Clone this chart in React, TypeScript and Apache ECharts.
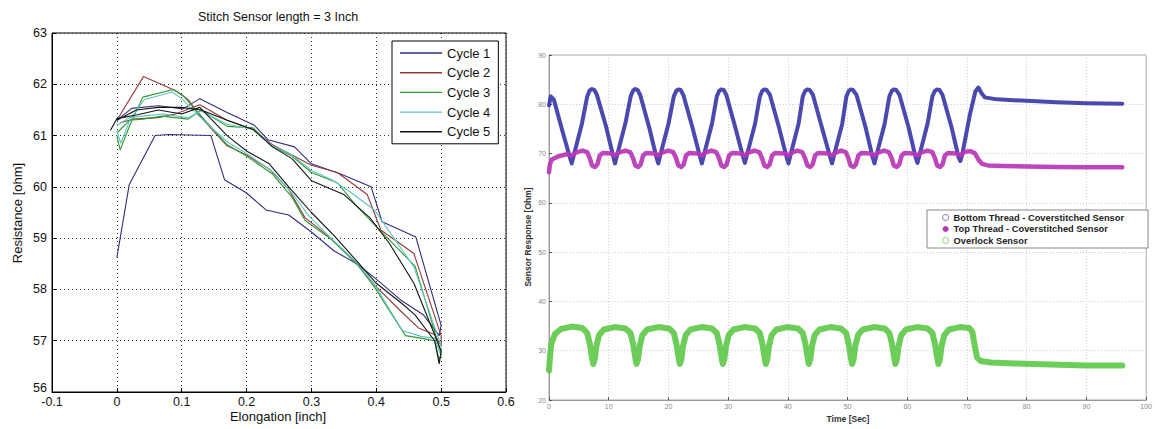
import { useEffect, useRef } from 'react';
import * as echarts from 'echarts';

// ---------- Left chart: Stitch Sensor length = 3 Inch ----------
const leftXTicks = [-0.1, 0, 0.1, 0.2, 0.3, 0.4, 0.5, 0.6];
const leftYTicks = [56, 57, 58, 59, 60, 61, 62, 63];
const cycleNames = ['Cycle 1', 'Cycle 2', 'Cycle 3', 'Cycle 4', 'Cycle 5'];

const cycle1 = [
  [0, 58.62], [0.019, 60.04], [0.059, 61.0], [0.08, 61.02], [0.145, 61.0], [0.166, 60.14], [0.2, 59.88],
  [0.23, 59.55], [0.265, 59.45], [0.3, 59.12], [0.335, 58.75], [0.37, 58.5], [0.4, 58.2], [0.437, 57.8],
  [0.473, 57.5], [0.497, 57.1], [0.5, 57.3], [0.461, 59.02], [0.409, 59.32], [0.392, 60.0], [0.345, 60.25],
  [0.3, 60.45], [0.274, 60.78], [0.233, 60.92], [0.212, 61.2], [0.17, 61.45], [0.128, 61.72], [0.102, 61.52],
  [0.064, 61.58], [0.023, 61.53], [0, 61.3],
];
const cycle2 = [
  [0, 61.3], [0.041, 62.15], [0.09, 61.88], [0.11, 61.7], [0.13, 61.35], [0.17, 60.8], [0.2, 60.62],
  [0.235, 60.35], [0.265, 59.95], [0.29, 59.4], [0.33, 59.0], [0.37, 58.5], [0.4, 58.05], [0.44, 57.55],
  [0.465, 57.25], [0.49, 57.12], [0.5, 56.9], [0.5, 57.1], [0.458, 58.7], [0.407, 59.16], [0.386, 59.85],
  [0.34, 60.28], [0.3, 60.42], [0.27, 60.62], [0.24, 60.82], [0.21, 61.12], [0.17, 61.3], [0.128, 61.6],
  [0.09, 61.42], [0.064, 61.35], [0.025, 61.32], [0.005, 61.25],
];
const cycle3 = [
  [0, 61.0], [0.005, 60.72], [0.02, 61.2], [0.04, 61.75], [0.087, 61.9], [0.102, 61.78], [0.125, 61.45],
  [0.17, 60.82], [0.2, 60.6], [0.24, 60.25], [0.27, 59.8], [0.29, 59.35], [0.33, 58.98], [0.37, 58.5],
  [0.397, 58.05], [0.445, 57.1], [0.473, 57.04], [0.49, 57.0], [0.497, 56.62], [0.5, 56.75], [0.46, 58.45],
  [0.402, 59.2], [0.37, 59.62], [0.34, 60.08], [0.3, 60.28], [0.27, 60.6], [0.24, 60.78], [0.21, 61.15],
  [0.17, 61.18], [0.13, 61.5], [0.11, 61.32], [0.07, 61.38], [0.04, 61.32], [0.02, 61.3], [0, 61.05],
];
const cycle4 = [
  [0, 61.1], [0.006, 60.85], [0.02, 61.3], [0.042, 61.7], [0.085, 61.85], [0.1, 61.72], [0.125, 61.4],
  [0.17, 60.88], [0.2, 60.65], [0.24, 60.3], [0.27, 59.88], [0.295, 59.45], [0.33, 59.0], [0.37, 58.52],
  [0.398, 58.08], [0.44, 57.2], [0.47, 57.08], [0.49, 57.05], [0.5, 56.7], [0.5, 56.9], [0.458, 58.44],
  [0.397, 59.55], [0.36, 59.9], [0.33, 60.15], [0.3, 60.32], [0.27, 60.62], [0.24, 60.8], [0.21, 61.12],
  [0.17, 61.22], [0.13, 61.48], [0.11, 61.35], [0.07, 61.42], [0.04, 61.38], [0.02, 61.35], [0, 61.2],
];
const cycle5 = [
  [-0.01, 61.1], [0, 61.33], [0.03, 61.4], [0.064, 61.5], [0.1, 61.42], [0.128, 61.55], [0.17, 61.0],
  [0.2, 60.7], [0.235, 60.45], [0.265, 60.0], [0.3, 59.5], [0.335, 59.05], [0.37, 58.55], [0.4, 58.12],
  [0.44, 57.72], [0.46, 57.5], [0.49, 57.0], [0.497, 56.55], [0.5, 56.8], [0.458, 58.12], [0.42, 58.9],
  [0.39, 59.4], [0.35, 59.85], [0.3, 60.12], [0.27, 60.55], [0.24, 60.78], [0.21, 61.12], [0.17, 61.3],
  [0.13, 61.5], [0.1, 61.55], [0.064, 61.55], [0.03, 61.5], [0, 61.3],
];
const cycles = [cycle1, cycle2, cycle3, cycle4, cycle5];
const cycleColors = ['#2e2e7e', '#963838', '#2f9a2f', '#5cc4c4', '#141414'];

// ---------- Right chart: Sensor Response vs Time ----------
const rightXTicks = [0, 10, 20, 30, 40, 50, 60, 70, 80, 90, 100];
const rightYTicks = [20, 30, 40, 50, 60, 70, 80, 90];
const sensorNames = ['Bottom Thread - Coverstitched Sensor', 'Top Thread - Coverstitched Sensor', 'Overlock Sensor'];

const bottomThread = [
  [0, 79.8], [0.3, 81.6], [0.8, 81.0], [2.2, 74.8], [3.5, 69.2], [3.8, 68.0], [4.1, 69.4], [5.5, 76.0],
  [6.4, 81.6], [6.8, 82.8], [7.2, 83.1], [7.6, 82.9], [8.0, 82.0], [9.6, 75.3], [10.8, 69.2], [11.05, 68.0], [11.35, 69.4],
  [12.8, 76.2], [13.7, 81.7], [14.1, 82.8], [14.45, 83.1], [14.85, 82.9], [15.3, 81.8], [16.8, 75.2], [18.0, 69.2], [18.3, 68.0],
  [18.6, 69.5], [20.0, 76.0], [20.9, 81.6], [21.3, 82.7], [21.65, 83.0], [22.05, 82.9], [22.5, 81.9], [24.0, 75.4], [25.3, 69.3],
  [25.6, 68.0], [25.9, 69.5], [27.3, 76.1], [28.1, 81.6], [28.5, 82.7], [28.85, 83.0], [29.25, 82.9], [29.7, 81.9], [31.2, 75.3],
  [32.5, 69.3], [32.8, 68.1], [33.1, 69.5], [34.5, 76.0], [35.3, 81.5], [35.7, 82.7], [36.05, 83.0], [36.45, 82.9], [37.0, 81.9],
  [38.5, 75.4], [39.8, 69.2], [40.1, 68.0], [40.4, 69.5], [41.8, 76.1], [42.5, 81.6], [42.9, 82.7], [43.25, 83.0], [43.65, 82.9],
  [44.2, 81.9], [45.7, 75.3], [47.1, 69.2], [47.4, 68.0], [47.7, 69.5], [49.1, 76.0], [49.8, 81.6], [50.2, 82.7], [50.5, 83.0],
  [50.9, 82.9], [51.5, 81.9], [53.0, 75.4], [54.2, 69.2], [54.5, 68.0], [54.8, 69.5], [56.2, 76.0], [57.0, 81.6], [57.4, 82.7],
  [57.75, 83.0], [58.15, 82.9], [58.7, 81.9], [60.2, 75.4], [61.4, 69.2], [61.7, 68.1], [62.0, 69.5], [63.4, 76.1],
  [64.2, 81.6], [64.6, 82.7], [65.0, 83.0], [65.4, 82.9], [65.9, 81.9], [67.4, 75.4], [68.6, 69.2], [68.9, 68.5], [69.2, 69.8],
  [70.5, 78.0], [71.4, 82.6], [71.9, 83.4], [72.4, 82.3], [73.0, 81.4], [75, 81.0], [80, 80.7], [85, 80.4],
  [90, 80.2], [96, 80.1],
];
const topThread = [
  [0, 66.2], [0.15, 67.8], [0.5, 68.8], [1.5, 69.4], [3.0, 69.9], [3.8, 69.6], [4.5, 70.2], [5.6, 70.6],
  [6.4, 70.3], [6.85, 69.0], [7.2, 67.6], [7.7, 67.3], [8.1, 67.8], [8.5, 69.6], [9.0, 70.1], [10.4, 70.0],
  [11.05, 69.6], [11.7, 70.2], [12.8, 70.6], [13.6, 70.3], [14.1, 69.0], [14.45, 67.6], [14.95, 67.3], [15.35, 67.8],
  [15.75, 69.6], [16.25, 70.1], [17.6, 70.0], [18.3, 69.6], [18.9, 70.2], [20.0, 70.6], [20.8, 70.3], [21.3, 69.0],
  [21.65, 67.6], [22.15, 67.3], [22.55, 67.8], [22.95, 69.6], [23.45, 70.1], [24.9, 70.0], [25.6, 69.6], [26.2, 70.2],
  [27.2, 70.6], [28.0, 70.3], [28.5, 69.0], [28.85, 67.6], [29.35, 67.3], [29.75, 67.8], [30.15, 69.6], [30.65, 70.1],
  [32.1, 70.0], [32.8, 69.6], [33.4, 70.2], [34.4, 70.6], [35.2, 70.3], [35.7, 69.0], [36.05, 67.6], [36.55, 67.3],
  [36.95, 67.8], [37.35, 69.6], [37.85, 70.1], [39.4, 70.0], [40.1, 69.6], [40.7, 70.2], [41.6, 70.6], [42.4, 70.3],
  [42.9, 69.0], [43.25, 67.6], [43.75, 67.3], [44.15, 67.8], [44.55, 69.6], [45.05, 70.1], [46.7, 70.0], [47.4, 69.6],
  [48.0, 70.2], [48.9, 70.6], [49.7, 70.3], [50.15, 69.0], [50.5, 67.6], [51.0, 67.3], [51.4, 67.8], [51.8, 69.6],
  [52.3, 70.1], [53.8, 70.0], [54.5, 69.6], [55.1, 70.2], [56.1, 70.6], [56.9, 70.3], [57.4, 69.0], [57.75, 67.6],
  [58.25, 67.3], [58.65, 67.8], [59.05, 69.6], [59.55, 70.1], [61.0, 70.0], [61.7, 69.6], [62.3, 70.2], [63.4, 70.6],
  [64.2, 70.3], [64.65, 69.0], [65.0, 67.6], [65.5, 67.3], [65.9, 67.8], [66.3, 69.6], [66.8, 70.1], [68.2, 70.0],
  [68.9, 69.6], [69.5, 70.3], [70.5, 70.5], [71.3, 70.1], [71.9, 68.8], [72.5, 67.9], [73.5, 67.6], [76, 67.5],
  [80, 67.4], [85, 67.3], [90, 67.2], [96, 67.2],
];
const overlock = [
  [0, 26.0], [0.15, 28.5], [0.4, 31.5], [1.0, 33.4], [2.0, 34.4], [3.8, 34.9], [5.6, 34.6], [6.4, 33.6],
  [6.85, 31.3], [7.2, 28.6], [7.4, 27.3], [7.65, 28.2], [7.95, 31.0], [8.4, 33.2], [9.2, 34.3], [11.0, 34.8],
  [12.8, 34.5], [13.65, 33.6], [14.1, 31.3], [14.45, 28.6], [14.65, 27.3], [14.9, 28.2], [15.2, 31.0], [15.65, 33.2],
  [16.45, 34.3], [18.3, 34.8], [20.1, 34.5], [20.9, 33.6], [21.35, 31.3], [21.7, 28.6], [21.9, 27.3], [22.15, 28.2],
  [22.45, 31.0], [22.9, 33.2], [23.7, 34.3], [25.5, 34.8], [27.3, 34.5], [28.1, 33.6], [28.55, 31.3], [28.9, 28.6],
  [29.1, 27.3], [29.35, 28.2], [29.65, 31.0], [30.1, 33.2], [30.9, 34.3], [32.7, 34.8], [34.5, 34.5], [35.3, 33.6],
  [35.75, 31.3], [36.1, 28.6], [36.3, 27.3], [36.55, 28.2], [36.85, 31.0], [37.3, 33.2], [38.1, 34.3], [39.9, 34.8],
  [41.7, 34.5], [42.5, 33.6], [42.95, 31.3], [43.3, 28.6], [43.5, 27.3], [43.75, 28.2], [44.05, 31.0], [44.5, 33.2],
  [45.3, 34.3], [47.1, 34.8], [48.9, 34.5], [49.75, 33.6], [50.2, 31.3], [50.55, 28.6], [50.75, 27.3], [51.0, 28.2],
  [51.3, 31.0], [51.75, 33.2], [52.55, 34.3], [54.4, 34.8], [56.2, 34.5], [57.0, 33.6], [57.45, 31.3], [57.8, 28.6],
  [58.0, 27.3], [58.25, 28.2], [58.55, 31.0], [59.0, 33.2], [59.8, 34.3], [61.6, 34.8], [63.4, 34.5], [64.2, 33.6],
  [64.65, 31.3], [65.0, 28.6], [65.2, 27.3], [65.45, 28.2], [65.75, 31.0], [66.2, 33.2], [67.0, 34.3], [68.8, 34.8],
  [70.4, 34.6], [70.9, 33.8], [71.3, 31.0], [71.7, 28.6], [72.3, 27.9], [74, 27.6], [78, 27.4], [84, 27.2],
  [90, 27.0], [96, 27.0],
];
const sensorColors = ['#3a3aa8', '#b936b6', '#5fc94a'];

const FONT = '"Liberation Sans", Arial, Helvetica, sans-serif';

function fmtX(v: number) {
  return String(Math.round(v * 10) / 10);
}
function fmtY(v: number) {
  return v === leftYTicks[0] ? `{low|${v}}` : String(v);
}

function buildOption() {
  const leftSeries = cycles.map((d, i) => ({
    name: cycleNames[i],
    type: 'line',
    xAxisIndex: 0,
    yAxisIndex: 0,
    data: d,
    symbol: 'none',
    lineStyle: { color: cycleColors[i], width: 1.1 },
    itemStyle: { color: cycleColors[i] },
    z: 3,
  }));
  const rightData = [bottomThread, topThread, overlock];
  const rightWidths = [4, 4.5, 6];
  const rightSeries = rightData.map((d, i) => ({
    name: sensorNames[i],
    type: 'line',
    xAxisIndex: 1,
    yAxisIndex: 1,
    data: d,
    symbol: 'circle',
    showSymbol: false,
    lineStyle: { color: sensorColors[i], width: rightWidths[i], opacity: 0.92, join: 'round', cap: 'round' },
    itemStyle: { color: sensorColors[i] },
    z: 3,
  }));

  return {
    animation: false,
    backgroundColor: '#ffffff',
    textStyle: { fontFamily: FONT },
    grid: [
      { left: 52, right: 649, top: 33, bottom: 37, show: true, borderColor: '#000', borderWidth: 1, backgroundColor: 'transparent' },
      { left: 549, right: 8, top: 55, bottom: 29, show: true, borderColor: '#a8a8a8', borderWidth: 1, backgroundColor: 'transparent' },
    ],
    xAxis: [
      {
        gridIndex: 0, type: 'value', min: leftXTicks[0], max: leftXTicks[leftXTicks.length - 1], interval: 0.1,
        axisLine: { show: true, onZero: false, lineStyle: { color: '#000', width: 1 } },
        axisTick: { show: true, inside: true, length: 4, lineStyle: { color: '#000' } },
        axisLabel: { color: '#111', fontSize: 12.5, margin: 3, fontFamily: FONT, formatter: fmtX },
        splitLine: { show: true, lineStyle: { color: '#333', width: 1, type: [1, 3] } },
      },
      {
        gridIndex: 1, type: 'value', min: rightXTicks[0], max: rightXTicks[rightXTicks.length - 1], interval: 10,
        axisLine: { show: true, onZero: false, lineStyle: { color: '#999', width: 1 } },
        axisTick: { show: true, inside: true, length: 3, lineStyle: { color: '#555' } },
        axisLabel: { color: '#888', fontSize: 7, margin: 3, fontFamily: FONT },
        splitLine: { show: true, lineStyle: { color: '#cfcfcf', width: 1, type: [1, 2] } },
      },
    ],
    yAxis: [
      {
        gridIndex: 0, type: 'value', min: leftYTicks[0], max: leftYTicks[leftYTicks.length - 1], interval: 1,
        axisLine: { show: true, onZero: false, lineStyle: { color: '#000', width: 1 } },
        axisTick: { show: true, inside: true, length: 4, lineStyle: { color: '#000' } },
        axisLabel: {
          color: '#111', fontSize: 12.5, margin: 5, fontFamily: FONT, formatter: fmtY,
          rich: { low: { fontSize: 12.5, color: '#111', fontFamily: FONT, padding: [0, 0, 8, 0] } },
        },
        splitLine: { show: true, lineStyle: { color: '#333', width: 1, type: [1, 3] } },
      },
      {
        gridIndex: 1, type: 'value', min: rightYTicks[0], max: rightYTicks[rightYTicks.length - 1], interval: 10,
        axisLine: { show: true, onZero: false, lineStyle: { color: '#999', width: 1 } },
        axisTick: { show: true, inside: true, length: 3, lineStyle: { color: '#555' } },
        axisLabel: { color: '#888', fontSize: 7, margin: 3, fontFamily: FONT },
        splitLine: { show: true, lineStyle: { color: '#cfcfcf', width: 1, type: [1, 2] } },
      },
    ],
    legend: [
      {
        data: cycleNames.map((n, i) => ({ name: n, icon: 'rect', itemStyle: { color: cycleColors[i] } })),
        orient: 'vertical',
        left: 392,
        top: 41,
        padding: [5.5, 8, 5.5, 8],
        itemGap: 6.7,
        itemWidth: 42,
        itemHeight: 1.4,
        backgroundColor: '#fff',
        borderColor: '#000',
        borderWidth: 1,
        textStyle: { color: '#111', fontSize: 13, fontFamily: FONT },
        selectedMode: false,
      },
      {
        data: sensorNames.map((n, i) => ({
          name: n,
          icon: 'circle',
          itemStyle: i === 1
            ? { color: sensorColors[i], borderColor: sensorColors[i], borderWidth: 0 }
            : { color: '#ffffff', borderColor: i === 0 ? '#9a9ad0' : '#a6dc98', borderWidth: 1.2 },
        })),
        orient: 'vertical',
        left: 927,
        top: 210,
        padding: [3, 24, 3, 15],
        itemGap: 2.5,
        itemWidth: 6,
        itemHeight: 7,
        backgroundColor: '#fff',
        borderColor: '#888',
        borderWidth: 1,
        textStyle: { color: '#222', fontSize: 9.3, fontWeight: 'bold', fontFamily: FONT },
        selectedMode: false,
      },
    ],
    graphic: [
      { type: 'text', x: 278, y: 17, style: { text: 'Stitch Sensor length = 3 Inch', font: `12.5px ${FONT}`, fill: '#111', textAlign: 'center', textVerticalAlign: 'middle' } },
      { type: 'text', x: 17, y: 213, rotation: Math.PI / 2, style: { text: 'Resistance [ohm]', font: `13px ${FONT}`, fill: '#111', textAlign: 'center', textVerticalAlign: 'middle' } },
      { type: 'text', x: 278, y: 416, style: { text: 'Elongation [inch]', font: `13px ${FONT}`, fill: '#111', textAlign: 'center', textVerticalAlign: 'middle' } },
      { type: 'text', x: 528, y: 237, rotation: Math.PI / 2, style: { text: 'Sensor Response [Ohm]', font: `bold 8.5px ${FONT}`, fill: '#333', textAlign: 'center', textVerticalAlign: 'middle' } },
      { type: 'text', x: 848, y: 419, style: { text: 'Time [Sec]', font: `bold 8.5px ${FONT}`, fill: '#333', textAlign: 'center', textVerticalAlign: 'middle' } },
    ],
    series: [...leftSeries, ...rightSeries],
  };
}

export default function App() {
  const ref = useRef<HTMLDivElement>(null);
  useEffect(() => {
    document.body.style.margin = '0';
    const chart = echarts.init(ref.current as HTMLDivElement, null, { renderer: 'svg' });
    chart.setOption(buildOption() as any);
    return () => chart.dispose();
  }, []);
  return <div ref={ref} style={{ width: 1155, height: 429, position: 'absolute', left: 0, top: 0 }} />;
}
